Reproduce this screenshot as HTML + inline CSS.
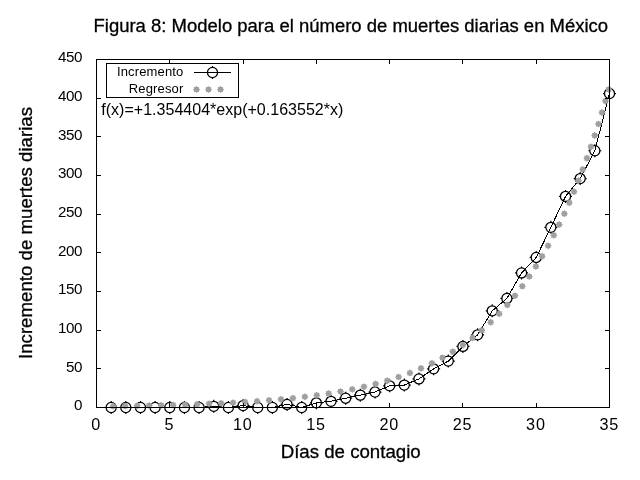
<!DOCTYPE html>
<html lang="es"><head><meta charset="utf-8"><title>Figura 8</title>
<style>html,body{margin:0;padding:0;background:#fff;}body{width:640px;height:480px;overflow:hidden;}svg{display:block;}text{font-family:'Liberation Sans', Arial, Helvetica, sans-serif;fill:#000;stroke:#000;stroke-width:0.3px;}.t{font-size:15.2px;stroke:none;letter-spacing:-0.35px;}.l{stroke:none;}.tx{font-size:16.2px;stroke:none;letter-spacing:0.8px;}</style></head><body>
<svg width="640" height="480" viewBox="0 0 640 480">
<rect x="0" y="0" width="640" height="480" fill="#fff"/>
<text x="93.5" y="31.7" font-size="18.67" textLength="514.6" lengthAdjust="spacingAndGlyphs">Figura 8: Modelo para el número de muertes diarias en México</text>
<polyline points="111.16,407.50 125.81,407.50 140.47,407.50 155.13,407.50 169.79,407.50 184.44,407.50 199.10,407.50 213.76,406.34 228.41,407.50 243.07,405.57 257.73,407.50 272.39,407.50 287.04,404.41 301.70,407.50 316.36,402.86 331.01,401.31 345.67,398.22 360.33,395.13 374.99,392.03 389.64,385.85 404.30,385.07 418.96,378.89 433.61,368.83 448.27,361.10 462.93,346.41 477.59,334.81 492.24,310.83 506.90,298.46 521.56,272.94 536.21,257.47 550.87,227.31 565.53,196.38 580.19,178.59 594.84,150.75 609.50,93.53" fill="none" stroke="#000" stroke-width="1" shape-rendering="crispEdges"/>
<g transform="translate(111.16,407.50)"><circle r="5.05" fill="none" stroke="#000" stroke-width="1.25"/><path d="M-6.5 0H-5M5 0H6.5M0 -6.5V-5M0 5V6.5" stroke="#000" stroke-width="1.2"/></g>
<g transform="translate(125.81,407.50)"><circle r="5.05" fill="none" stroke="#000" stroke-width="1.25"/><path d="M-6.5 0H-5M5 0H6.5M0 -6.5V-5M0 5V6.5" stroke="#000" stroke-width="1.2"/></g>
<g transform="translate(140.47,407.50)"><circle r="5.05" fill="none" stroke="#000" stroke-width="1.25"/><path d="M-6.5 0H-5M5 0H6.5M0 -6.5V-5M0 5V6.5" stroke="#000" stroke-width="1.2"/></g>
<g transform="translate(155.13,407.50)"><circle r="5.05" fill="none" stroke="#000" stroke-width="1.25"/><path d="M-6.5 0H-5M5 0H6.5M0 -6.5V-5M0 5V6.5" stroke="#000" stroke-width="1.2"/></g>
<g transform="translate(169.79,407.50)"><circle r="5.05" fill="none" stroke="#000" stroke-width="1.25"/><path d="M-6.5 0H-5M5 0H6.5M0 -6.5V-5M0 5V6.5" stroke="#000" stroke-width="1.2"/></g>
<g transform="translate(184.44,407.50)"><circle r="5.05" fill="none" stroke="#000" stroke-width="1.25"/><path d="M-6.5 0H-5M5 0H6.5M0 -6.5V-5M0 5V6.5" stroke="#000" stroke-width="1.2"/></g>
<g transform="translate(199.10,407.50)"><circle r="5.05" fill="none" stroke="#000" stroke-width="1.25"/><path d="M-6.5 0H-5M5 0H6.5M0 -6.5V-5M0 5V6.5" stroke="#000" stroke-width="1.2"/></g>
<g transform="translate(213.76,406.34)"><circle r="5.05" fill="none" stroke="#000" stroke-width="1.25"/><path d="M-6.5 0H-5M5 0H6.5M0 -6.5V-5M0 5V6.5" stroke="#000" stroke-width="1.2"/></g>
<g transform="translate(228.41,407.50)"><circle r="5.05" fill="none" stroke="#000" stroke-width="1.25"/><path d="M-6.5 0H-5M5 0H6.5M0 -6.5V-5M0 5V6.5" stroke="#000" stroke-width="1.2"/></g>
<g transform="translate(243.07,405.57)"><circle r="5.05" fill="none" stroke="#000" stroke-width="1.25"/><path d="M-6.5 0H-5M5 0H6.5M0 -6.5V-5M0 5V6.5" stroke="#000" stroke-width="1.2"/></g>
<g transform="translate(257.73,407.50)"><circle r="5.05" fill="none" stroke="#000" stroke-width="1.25"/><path d="M-6.5 0H-5M5 0H6.5M0 -6.5V-5M0 5V6.5" stroke="#000" stroke-width="1.2"/></g>
<g transform="translate(272.39,407.50)"><circle r="5.05" fill="none" stroke="#000" stroke-width="1.25"/><path d="M-6.5 0H-5M5 0H6.5M0 -6.5V-5M0 5V6.5" stroke="#000" stroke-width="1.2"/></g>
<g transform="translate(287.04,404.41)"><circle r="5.05" fill="none" stroke="#000" stroke-width="1.25"/><path d="M-6.5 0H-5M5 0H6.5M0 -6.5V-5M0 5V6.5" stroke="#000" stroke-width="1.2"/></g>
<g transform="translate(301.70,407.50)"><circle r="5.05" fill="none" stroke="#000" stroke-width="1.25"/><path d="M-6.5 0H-5M5 0H6.5M0 -6.5V-5M0 5V6.5" stroke="#000" stroke-width="1.2"/></g>
<g transform="translate(316.36,402.86)"><circle r="5.05" fill="none" stroke="#000" stroke-width="1.25"/><path d="M-6.5 0H-5M5 0H6.5M0 -6.5V-5M0 5V6.5" stroke="#000" stroke-width="1.2"/></g>
<g transform="translate(331.01,401.31)"><circle r="5.05" fill="none" stroke="#000" stroke-width="1.25"/><path d="M-6.5 0H-5M5 0H6.5M0 -6.5V-5M0 5V6.5" stroke="#000" stroke-width="1.2"/></g>
<g transform="translate(345.67,398.22)"><circle r="5.05" fill="none" stroke="#000" stroke-width="1.25"/><path d="M-6.5 0H-5M5 0H6.5M0 -6.5V-5M0 5V6.5" stroke="#000" stroke-width="1.2"/></g>
<g transform="translate(360.33,395.13)"><circle r="5.05" fill="none" stroke="#000" stroke-width="1.25"/><path d="M-6.5 0H-5M5 0H6.5M0 -6.5V-5M0 5V6.5" stroke="#000" stroke-width="1.2"/></g>
<g transform="translate(374.99,392.03)"><circle r="5.05" fill="none" stroke="#000" stroke-width="1.25"/><path d="M-6.5 0H-5M5 0H6.5M0 -6.5V-5M0 5V6.5" stroke="#000" stroke-width="1.2"/></g>
<g transform="translate(389.64,385.85)"><circle r="5.05" fill="none" stroke="#000" stroke-width="1.25"/><path d="M-6.5 0H-5M5 0H6.5M0 -6.5V-5M0 5V6.5" stroke="#000" stroke-width="1.2"/></g>
<g transform="translate(404.30,385.07)"><circle r="5.05" fill="none" stroke="#000" stroke-width="1.25"/><path d="M-6.5 0H-5M5 0H6.5M0 -6.5V-5M0 5V6.5" stroke="#000" stroke-width="1.2"/></g>
<g transform="translate(418.96,378.89)"><circle r="5.05" fill="none" stroke="#000" stroke-width="1.25"/><path d="M-6.5 0H-5M5 0H6.5M0 -6.5V-5M0 5V6.5" stroke="#000" stroke-width="1.2"/></g>
<g transform="translate(433.61,368.83)"><circle r="5.05" fill="none" stroke="#000" stroke-width="1.25"/><path d="M-6.5 0H-5M5 0H6.5M0 -6.5V-5M0 5V6.5" stroke="#000" stroke-width="1.2"/></g>
<g transform="translate(448.27,361.10)"><circle r="5.05" fill="none" stroke="#000" stroke-width="1.25"/><path d="M-6.5 0H-5M5 0H6.5M0 -6.5V-5M0 5V6.5" stroke="#000" stroke-width="1.2"/></g>
<g transform="translate(462.93,346.41)"><circle r="5.05" fill="none" stroke="#000" stroke-width="1.25"/><path d="M-6.5 0H-5M5 0H6.5M0 -6.5V-5M0 5V6.5" stroke="#000" stroke-width="1.2"/></g>
<g transform="translate(477.59,334.81)"><circle r="5.05" fill="none" stroke="#000" stroke-width="1.25"/><path d="M-6.5 0H-5M5 0H6.5M0 -6.5V-5M0 5V6.5" stroke="#000" stroke-width="1.2"/></g>
<g transform="translate(492.24,310.83)"><circle r="5.05" fill="none" stroke="#000" stroke-width="1.25"/><path d="M-6.5 0H-5M5 0H6.5M0 -6.5V-5M0 5V6.5" stroke="#000" stroke-width="1.2"/></g>
<g transform="translate(506.90,298.46)"><circle r="5.05" fill="none" stroke="#000" stroke-width="1.25"/><path d="M-6.5 0H-5M5 0H6.5M0 -6.5V-5M0 5V6.5" stroke="#000" stroke-width="1.2"/></g>
<g transform="translate(521.56,272.94)"><circle r="5.05" fill="none" stroke="#000" stroke-width="1.25"/><path d="M-6.5 0H-5M5 0H6.5M0 -6.5V-5M0 5V6.5" stroke="#000" stroke-width="1.2"/></g>
<g transform="translate(536.21,257.47)"><circle r="5.05" fill="none" stroke="#000" stroke-width="1.25"/><path d="M-6.5 0H-5M5 0H6.5M0 -6.5V-5M0 5V6.5" stroke="#000" stroke-width="1.2"/></g>
<g transform="translate(550.87,227.31)"><circle r="5.05" fill="none" stroke="#000" stroke-width="1.25"/><path d="M-6.5 0H-5M5 0H6.5M0 -6.5V-5M0 5V6.5" stroke="#000" stroke-width="1.2"/></g>
<g transform="translate(565.53,196.38)"><circle r="5.05" fill="none" stroke="#000" stroke-width="1.25"/><path d="M-6.5 0H-5M5 0H6.5M0 -6.5V-5M0 5V6.5" stroke="#000" stroke-width="1.2"/></g>
<g transform="translate(580.19,178.59)"><circle r="5.05" fill="none" stroke="#000" stroke-width="1.25"/><path d="M-6.5 0H-5M5 0H6.5M0 -6.5V-5M0 5V6.5" stroke="#000" stroke-width="1.2"/></g>
<g transform="translate(594.84,150.75)"><circle r="5.05" fill="none" stroke="#000" stroke-width="1.25"/><path d="M-6.5 0H-5M5 0H6.5M0 -6.5V-5M0 5V6.5" stroke="#000" stroke-width="1.2"/></g>
<g transform="translate(609.50,93.53)"><circle r="5.05" fill="none" stroke="#000" stroke-width="1.25"/><path d="M-6.5 0H-5M5 0H6.5M0 -6.5V-5M0 5V6.5" stroke="#000" stroke-width="1.2"/></g>
<g fill="#a0a0a0">
<polygon points="116.76,406.24 115.65,407.27 115.70,408.78 114.19,408.73 113.16,409.84 112.12,408.73 110.61,408.78 110.66,407.27 109.56,406.24 110.66,405.21 110.61,403.69 112.12,403.74 113.16,402.64 114.19,403.74 115.70,403.69 115.65,405.21"/>
<polygon points="128.76,406.06 127.65,407.09 127.70,408.60 126.19,408.55 125.16,409.66 124.12,408.55 122.61,408.60 122.66,407.09 121.56,406.06 122.66,405.02 122.61,403.51 124.12,403.56 125.16,402.46 126.19,403.56 127.70,403.51 127.65,405.02"/>
<polygon points="140.75,405.85 139.65,406.88 139.70,408.40 138.19,408.35 137.15,409.45 136.12,408.35 134.61,408.40 134.66,406.88 133.55,405.85 134.66,404.82 134.61,403.31 136.12,403.36 137.15,402.25 138.19,403.36 139.70,403.31 139.65,404.82"/>
<polygon points="152.75,405.62 151.65,406.65 151.70,408.16 150.18,408.11 149.15,409.22 148.12,408.11 146.61,408.16 146.66,406.65 145.55,405.62 146.66,404.58 146.61,403.07 148.12,403.12 149.15,402.02 150.18,403.12 151.70,403.07 151.65,404.58"/>
<polygon points="164.75,405.35 163.64,406.38 163.69,407.89 162.18,407.84 161.15,408.95 160.12,407.84 158.60,407.89 158.65,406.38 157.55,405.35 158.65,404.31 158.60,402.80 160.12,402.85 161.15,401.75 162.18,402.85 163.69,402.80 163.64,404.31"/>
<polygon points="176.74,405.04 175.64,406.07 175.69,407.58 174.18,407.53 173.14,408.64 172.11,407.53 170.60,407.58 170.65,406.07 169.54,405.04 170.65,404.00 170.60,402.49 172.11,402.54 173.14,401.44 174.18,402.54 175.69,402.49 175.64,404.00"/>
<polygon points="188.74,404.68 187.63,405.72 187.68,407.23 186.17,407.18 185.14,408.28 184.11,407.18 182.59,407.23 182.64,405.72 181.54,404.68 182.64,403.65 182.59,402.14 184.11,402.19 185.14,401.08 186.17,402.19 187.68,402.14 187.63,403.65"/>
<polygon points="200.73,404.28 199.63,405.31 199.68,406.83 198.17,406.77 197.13,407.88 196.10,406.77 194.59,406.83 194.64,405.31 193.53,404.28 194.64,403.25 194.59,401.73 196.10,401.79 197.13,400.68 198.17,401.79 199.68,401.73 199.63,403.25"/>
<polygon points="212.72,403.82 211.62,404.85 211.67,406.37 210.16,406.31 209.12,407.42 208.09,406.31 206.58,406.37 206.63,404.85 205.52,403.82 206.63,402.79 206.58,401.27 208.09,401.33 209.12,400.22 210.16,401.33 211.67,401.27 211.62,402.79"/>
<polygon points="224.71,403.29 223.61,404.33 223.66,405.84 222.15,405.79 221.11,406.89 220.08,405.79 218.57,405.84 218.62,404.33 217.51,403.29 218.62,402.26 218.57,400.75 220.08,400.80 221.11,399.69 222.15,400.80 223.66,400.75 223.61,402.26"/>
<polygon points="236.70,402.69 235.59,403.72 235.64,405.24 234.13,405.19 233.10,406.29 232.06,405.19 230.55,405.24 230.60,403.72 229.50,402.69 230.60,401.66 230.55,400.15 232.06,400.20 233.10,399.09 234.13,400.20 235.64,400.15 235.59,401.66"/>
<polygon points="248.68,402.00 247.57,403.04 247.62,404.55 246.11,404.50 245.08,405.60 244.04,404.50 242.53,404.55 242.58,403.04 241.48,402.00 242.58,400.97 242.53,399.46 244.04,399.51 245.08,398.40 246.11,399.51 247.62,399.46 247.57,400.97"/>
<polygon points="260.65,401.22 259.55,402.25 259.60,403.76 258.08,403.71 257.05,404.82 256.02,403.71 254.51,403.76 254.56,402.25 253.45,401.22 254.56,400.18 254.51,398.67 256.02,398.72 257.05,397.62 258.08,398.72 259.60,398.67 259.55,400.18"/>
<polygon points="272.62,400.32 271.51,401.35 271.56,402.87 270.05,402.81 269.02,403.92 267.98,402.81 266.47,402.87 266.52,401.35 265.42,400.32 266.52,399.29 266.47,397.77 267.98,397.83 269.02,396.72 270.05,397.83 271.56,397.77 271.51,399.29"/>
<polygon points="284.57,399.29 283.47,400.33 283.52,401.84 282.01,401.79 280.97,402.89 279.94,401.79 278.43,401.84 278.48,400.33 277.37,399.29 278.48,398.26 278.43,396.75 279.94,396.80 280.97,395.69 282.01,396.80 283.52,396.75 283.47,398.26"/>
<polygon points="296.52,398.13 295.41,399.16 295.46,400.67 293.95,400.62 292.92,401.73 291.88,400.62 290.37,400.67 290.42,399.16 289.32,398.13 290.42,397.09 290.37,395.58 291.88,395.63 292.92,394.53 293.95,395.63 295.46,395.58 295.41,397.09"/>
<polygon points="308.44,396.79 307.34,397.82 307.39,399.34 305.88,399.29 304.84,400.39 303.81,399.29 302.30,399.34 302.35,397.82 301.24,396.79 302.35,395.76 302.30,394.25 303.81,394.30 304.84,393.19 305.88,394.30 307.39,394.25 307.34,395.76"/>
<polygon points="320.35,395.27 319.24,396.30 319.29,397.82 317.78,397.76 316.75,398.87 315.71,397.76 314.20,397.82 314.25,396.30 313.15,395.27 314.25,394.24 314.20,392.72 315.71,392.78 316.75,391.67 317.78,392.78 319.29,392.72 319.24,394.24"/>
<polygon points="332.22,393.54 331.11,394.57 331.16,396.08 329.65,396.03 328.62,397.14 327.59,396.03 326.07,396.08 326.12,394.57 325.02,393.54 326.12,392.50 326.07,390.99 327.59,391.04 328.62,389.94 329.65,391.04 331.16,390.99 331.11,392.50"/>
<polygon points="344.06,391.57 342.95,392.60 343.00,394.11 341.49,394.06 340.46,395.17 339.42,394.06 337.91,394.11 337.96,392.60 336.86,391.57 337.96,390.53 337.91,389.02 339.42,389.07 340.46,387.97 341.49,389.07 343.00,389.02 342.95,390.53"/>
<polygon points="355.84,389.33 354.74,390.36 354.79,391.87 353.28,391.82 352.24,392.93 351.21,391.82 349.70,391.87 349.75,390.36 348.64,389.33 349.75,388.29 349.70,386.78 351.21,386.83 352.24,385.73 353.28,386.83 354.79,386.78 354.74,388.29"/>
<polygon points="367.57,386.78 366.47,387.82 366.52,389.33 365.01,389.28 363.97,390.38 362.94,389.28 361.43,389.33 361.48,387.82 360.37,386.78 361.48,385.75 361.43,384.24 362.94,384.29 363.97,383.18 365.01,384.29 366.52,384.24 366.47,385.75"/>
<polygon points="379.22,383.91 378.12,384.94 378.17,386.45 376.66,386.40 375.62,387.51 374.59,386.40 373.08,386.45 373.13,384.94 372.02,383.91 373.13,382.87 373.08,381.36 374.59,381.41 375.62,380.31 376.66,381.41 378.17,381.36 378.12,382.87"/>
<polygon points="390.77,380.66 389.67,381.70 389.72,383.21 388.21,383.16 387.17,384.26 386.14,383.16 384.63,383.21 384.68,381.70 383.57,380.66 384.68,379.63 384.63,378.12 386.14,378.17 387.17,377.06 388.21,378.17 389.72,378.12 389.67,379.63"/>
<polygon points="402.20,377.01 401.10,378.04 401.15,379.56 399.64,379.51 398.60,380.61 397.57,379.51 396.06,379.56 396.11,378.04 395.00,377.01 396.11,375.98 396.06,374.47 397.57,374.52 398.60,373.41 399.64,374.52 401.15,374.47 401.10,375.98"/>
<polygon points="413.49,372.92 412.38,373.95 412.43,375.47 410.92,375.42 409.89,376.52 408.85,375.42 407.34,375.47 407.39,373.95 406.29,372.92 407.39,371.89 407.34,370.38 408.85,370.43 409.89,369.32 410.92,370.43 412.43,370.38 412.38,371.89"/>
<polygon points="424.58,368.36 423.48,369.40 423.53,370.91 422.02,370.86 420.98,371.96 419.95,370.86 418.44,370.91 418.49,369.40 417.38,368.36 418.49,367.33 418.44,365.82 419.95,365.87 420.98,364.76 422.02,365.87 423.53,365.82 423.48,367.33"/>
<polygon points="435.47,363.31 434.36,364.34 434.41,365.85 432.90,365.80 431.87,366.91 430.83,365.80 429.32,365.85 429.37,364.34 428.27,363.31 429.37,362.28 429.32,360.76 430.83,360.81 431.87,359.71 432.90,360.81 434.41,360.76 434.36,362.28"/>
<polygon points="446.10,357.74 444.99,358.78 445.04,360.29 443.53,360.24 442.50,361.34 441.46,360.24 439.95,360.29 440.00,358.78 438.90,357.74 440.00,356.71 439.95,355.20 441.46,355.25 442.50,354.14 443.53,355.25 445.04,355.20 444.99,356.71"/>
<polygon points="456.44,351.66 455.33,352.69 455.38,354.20 453.87,354.15 452.84,355.26 451.80,354.15 450.29,354.20 450.34,352.69 449.24,351.66 450.34,350.62 450.29,349.11 451.80,349.16 452.84,348.06 453.87,349.16 455.38,349.11 455.33,350.62"/>
<polygon points="466.46,345.05 465.35,346.09 465.40,347.60 463.89,347.55 462.86,348.65 461.82,347.55 460.31,347.60 460.36,346.09 459.26,345.05 460.36,344.02 460.31,342.51 461.82,342.56 462.86,341.45 463.89,342.56 465.40,342.51 465.35,344.02"/>
<polygon points="476.12,337.94 475.01,338.98 475.07,340.49 473.55,340.44 472.52,341.54 471.49,340.44 469.97,340.49 470.03,338.98 468.92,337.94 470.03,336.91 469.97,335.40 471.49,335.45 472.52,334.34 473.55,335.45 475.07,335.40 475.01,336.91"/>
<polygon points="485.41,330.35 484.30,331.38 484.35,332.89 482.84,332.84 481.81,333.95 480.78,332.84 479.26,332.89 479.31,331.38 478.21,330.35 479.31,329.31 479.26,327.80 480.78,327.85 481.81,326.75 482.84,327.85 484.35,327.80 484.30,329.31"/>
<polygon points="494.30,322.30 493.20,323.33 493.25,324.84 491.74,324.79 490.70,325.90 489.67,324.79 488.16,324.84 488.21,323.33 487.10,322.30 488.21,321.26 488.16,319.75 489.67,319.80 490.70,318.70 491.74,319.80 493.25,319.75 493.20,321.26"/>
<polygon points="502.80,313.82 501.70,314.86 501.75,316.37 500.23,316.32 499.20,317.42 498.17,316.32 496.66,316.37 496.71,314.86 495.60,313.82 496.71,312.79 496.66,311.28 498.17,311.33 499.20,310.22 500.23,311.33 501.75,311.28 501.70,312.79"/>
<polygon points="510.90,304.97 509.79,306.00 509.84,307.51 508.33,307.46 507.30,308.57 506.26,307.46 504.75,307.51 504.80,306.00 503.70,304.97 504.80,303.93 504.75,302.42 506.26,302.47 507.30,301.37 508.33,302.47 509.84,302.42 509.79,303.93"/>
<polygon points="518.60,295.76 517.49,296.80 517.54,298.31 516.03,298.26 515.00,299.36 513.96,298.26 512.45,298.31 512.50,296.80 511.40,295.76 512.50,294.73 512.45,293.22 513.96,293.27 515.00,292.16 516.03,293.27 517.54,293.22 517.49,294.73"/>
<polygon points="525.92,286.26 524.81,287.29 524.86,288.80 523.35,288.75 522.32,289.86 521.28,288.75 519.77,288.80 519.82,287.29 518.72,286.26 519.82,285.22 519.77,283.71 521.28,283.76 522.32,282.66 523.35,283.76 524.86,283.71 524.81,285.22"/>
<polygon points="532.87,276.48 531.76,277.51 531.81,279.02 530.30,278.97 529.27,280.08 528.24,278.97 526.72,279.02 526.77,277.51 525.67,276.48 526.77,275.44 526.72,273.93 528.24,273.98 529.27,272.88 530.30,273.98 531.81,273.93 531.76,275.44"/>
<polygon points="539.47,266.46 538.37,267.49 538.42,269.00 536.91,268.95 535.87,270.06 534.84,268.95 533.33,269.00 533.38,267.49 532.27,266.46 533.38,265.42 533.33,263.91 534.84,263.96 535.87,262.86 536.91,263.96 538.42,263.91 538.37,265.42"/>
<polygon points="545.75,256.23 544.64,257.26 544.69,258.77 543.18,258.72 542.15,259.83 541.11,258.72 539.60,258.77 539.65,257.26 538.55,256.23 539.65,255.20 539.60,253.68 541.11,253.73 542.15,252.63 543.18,253.73 544.69,253.68 544.64,255.20"/>
<polygon points="551.71,245.82 550.61,246.85 550.66,248.36 549.15,248.31 548.11,249.42 547.08,248.31 545.57,248.36 545.62,246.85 544.51,245.82 545.62,244.78 545.57,243.27 547.08,243.32 548.11,242.22 549.15,243.32 550.66,243.27 550.61,244.78"/>
<polygon points="557.39,235.24 556.28,236.28 556.33,237.79 554.82,237.74 553.79,238.84 552.76,237.74 551.24,237.79 551.29,236.28 550.19,235.24 551.29,234.21 551.24,232.70 552.76,232.75 553.79,231.64 554.82,232.75 556.33,232.70 556.28,234.21"/>
<polygon points="562.80,224.53 561.69,225.57 561.74,227.08 560.23,227.03 559.20,228.13 558.16,227.03 556.65,227.08 556.70,225.57 555.60,224.53 556.70,223.50 556.65,221.99 558.16,222.04 559.20,220.93 560.23,222.04 561.74,221.99 561.69,223.50"/>
<polygon points="567.95,213.70 566.85,214.73 566.90,216.24 565.38,216.19 564.35,217.30 563.32,216.19 561.81,216.24 561.86,214.73 560.75,213.70 561.86,212.66 561.81,211.15 563.32,211.20 564.35,210.10 565.38,211.20 566.90,211.15 566.85,212.66"/>
<polygon points="572.87,202.75 571.77,203.79 571.82,205.30 570.31,205.25 569.27,206.35 568.24,205.25 566.73,205.30 566.78,203.79 565.67,202.75 566.78,201.72 566.73,200.21 568.24,200.26 569.27,199.15 570.31,200.26 571.82,200.21 571.77,201.72"/>
<polygon points="577.58,191.71 576.47,192.75 576.53,194.26 575.01,194.21 573.98,195.31 572.95,194.21 571.43,194.26 571.49,192.75 570.38,191.71 571.49,190.68 571.43,189.17 572.95,189.22 573.98,188.11 575.01,189.22 576.53,189.17 576.47,190.68"/>
<polygon points="582.08,180.59 580.98,181.63 581.03,183.14 579.52,183.09 578.48,184.19 577.45,183.09 575.94,183.14 575.99,181.63 574.88,180.59 575.99,179.56 575.94,178.05 577.45,178.10 578.48,176.99 579.52,178.10 581.03,178.05 580.98,179.56"/>
<polygon points="586.40,169.40 585.30,170.43 585.35,171.94 583.83,171.89 582.80,173.00 581.77,171.89 580.26,171.94 580.31,170.43 579.20,169.40 580.31,168.36 580.26,166.85 581.77,166.90 582.80,165.80 583.83,166.90 585.35,166.85 585.30,168.36"/>
<polygon points="590.54,158.13 589.44,159.17 589.49,160.68 587.98,160.63 586.94,161.73 585.91,160.63 584.40,160.68 584.45,159.17 583.34,158.13 584.45,157.10 584.40,155.59 585.91,155.64 586.94,154.53 587.98,155.64 589.49,155.59 589.44,157.10"/>
<polygon points="594.52,146.81 593.42,147.84 593.47,149.36 591.95,149.31 590.92,150.41 589.89,149.31 588.38,149.36 588.43,147.84 587.32,146.81 588.43,145.78 588.38,144.27 589.89,144.32 590.92,143.21 591.95,144.32 593.47,144.27 593.42,145.78"/>
<polygon points="598.35,135.44 597.24,136.47 597.29,137.98 595.78,137.93 594.75,139.04 593.71,137.93 592.20,137.98 592.25,136.47 591.15,135.44 592.25,134.41 592.20,132.89 593.71,132.94 594.75,131.84 595.78,132.94 597.29,132.89 597.24,134.41"/>
<polygon points="602.03,124.02 600.93,125.05 600.98,126.56 599.47,126.51 598.43,127.62 597.40,126.51 595.89,126.56 595.94,125.05 594.83,124.02 595.94,122.98 595.89,121.47 597.40,121.52 598.43,120.42 599.47,121.52 600.98,121.47 600.93,122.98"/>
<polygon points="605.59,112.56 604.48,113.59 604.53,115.10 603.02,115.05 601.99,116.16 600.95,115.05 599.44,115.10 599.49,113.59 598.39,112.56 599.49,111.52 599.44,110.01 600.95,110.06 601.99,108.96 603.02,110.06 604.53,110.01 604.48,111.52"/>
<polygon points="609.01,101.06 607.91,102.09 607.96,103.60 606.45,103.55 605.41,104.66 604.38,103.55 602.87,103.60 602.92,102.09 601.81,101.06 602.92,100.02 602.87,98.51 604.38,98.56 605.41,97.46 606.45,98.56 607.96,98.51 607.91,100.02"/>
<polygon points="612.32,89.52 611.22,90.56 611.27,92.07 609.76,92.02 608.72,93.12 607.69,92.02 606.18,92.07 606.23,90.56 605.12,89.52 606.23,88.49 606.18,86.98 607.69,87.03 608.72,85.92 609.76,87.03 611.27,86.98 611.22,88.49"/>
</g>
<g stroke="#000" stroke-width="1" fill="none" shape-rendering="crispEdges">
<rect x="96.5" y="59.5" width="513" height="348"/>
<path d="M96.5 407.5V403M96.5 59.5V64"/>
<path d="M169.5 407.5V403M169.5 59.5V64"/>
<path d="M243.5 407.5V403M243.5 59.5V64"/>
<path d="M316.5 407.5V403M316.5 59.5V64"/>
<path d="M389.5 407.5V403M389.5 59.5V64"/>
<path d="M462.5 407.5V403M462.5 59.5V64"/>
<path d="M536.5 407.5V403M536.5 59.5V64"/>
<path d="M609.5 407.5V403M609.5 59.5V64"/>
<path d="M96.5 407.5H101M609.5 407.5H605"/>
<path d="M96.5 368.5H101M609.5 368.5H605"/>
<path d="M96.5 330.5H101M609.5 330.5H605"/>
<path d="M96.5 291.5H101M609.5 291.5H605"/>
<path d="M96.5 252.5H101M609.5 252.5H605"/>
<path d="M96.5 214.5H101M609.5 214.5H605"/>
<path d="M96.5 175.5H101M609.5 175.5H605"/>
<path d="M96.5 136.5H101M609.5 136.5H605"/>
<path d="M96.5 98.5H101M609.5 98.5H605"/>
<path d="M96.5 59.5H101M609.5 59.5H605"/>
</g>
<text x="96.2" y="429.6" class="tx" text-anchor="middle">0</text>
<text x="169.5" y="429.6" class="tx" text-anchor="middle">5</text>
<text x="242.8" y="429.6" class="tx" text-anchor="middle">10</text>
<text x="316.1" y="429.6" class="tx" text-anchor="middle">15</text>
<text x="389.3" y="429.6" class="tx" text-anchor="middle">20</text>
<text x="462.6" y="429.6" class="tx" text-anchor="middle">25</text>
<text x="535.9" y="429.6" class="tx" text-anchor="middle">30</text>
<text x="609.2" y="429.6" class="tx" text-anchor="middle">35</text>
<text x="82.2" y="410.4" class="t" text-anchor="end">0</text>
<text x="82.2" y="371.7" class="t" text-anchor="end">50</text>
<text x="82.2" y="333.1" class="t" text-anchor="end">100</text>
<text x="82.2" y="294.4" class="t" text-anchor="end">150</text>
<text x="82.2" y="255.7" class="t" text-anchor="end">200</text>
<text x="82.2" y="217.1" class="t" text-anchor="end">250</text>
<text x="82.2" y="178.4" class="t" text-anchor="end">300</text>
<text x="82.2" y="139.7" class="t" text-anchor="end">350</text>
<text x="82.2" y="101.1" class="t" text-anchor="end">400</text>
<text x="82.2" y="62.4" class="t" text-anchor="end">450</text>
<text x="350.7" y="457.6" font-size="18.67" text-anchor="middle">Días de contagio</text>
<text transform="translate(32.4,233) rotate(-90)" font-size="18.67" text-anchor="middle">Incremento de muertes diarias</text>
<rect x="106.5" y="63.5" width="132" height="34" fill="#fff" stroke="#000" stroke-width="1" shape-rendering="crispEdges"/>
<text class="l" x="117" y="75.6" font-size="13" textLength="66.3" lengthAdjust="spacing">Incremento</text>
<text class="l" x="128.8" y="92.6" font-size="13" textLength="54.5" lengthAdjust="spacing">Regresor</text>
<path d="M194 72.5H231" stroke="#000" stroke-width="1" shape-rendering="crispEdges"/>
<g transform="translate(212.50,72.50)"><circle r="5.05" fill="none" stroke="#000" stroke-width="1.25"/><path d="M-6.5 0H-5M5 0H6.5M0 -6.5V-5M0 5V6.5" stroke="#000" stroke-width="1.2"/></g>
<g fill="#a0a0a0"><polygon points="200.10,89.50 198.99,90.53 199.05,92.05 197.53,91.99 196.50,93.10 195.47,91.99 193.95,92.05 194.01,90.53 192.90,89.50 194.01,88.47 193.95,86.95 195.47,87.01 196.50,85.90 197.53,87.01 199.05,86.95 198.99,88.47"/><polygon points="212.10,89.50 210.99,90.53 211.05,92.05 209.53,91.99 208.50,93.10 207.47,91.99 205.95,92.05 206.01,90.53 204.90,89.50 206.01,88.47 205.95,86.95 207.47,87.01 208.50,85.90 209.53,87.01 211.05,86.95 210.99,88.47"/><polygon points="224.10,89.50 222.99,90.53 223.05,92.05 221.53,91.99 220.50,93.10 219.47,91.99 217.95,92.05 218.01,90.53 216.90,89.50 218.01,88.47 217.95,86.95 219.47,87.01 220.50,85.90 221.53,87.01 223.05,86.95 222.99,88.47"/></g>
<text class="l" x="101.3" y="115" font-size="16" textLength="242" lengthAdjust="spacing">f(x)=+1.354404*exp(+0.163552*x)</text>
</svg></body></html>
